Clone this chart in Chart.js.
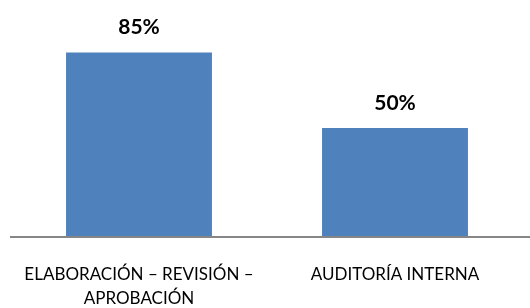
<!DOCTYPE html>
<html>
<head>
<meta charset="utf-8">
<script src="https://cdn.jsdelivr.net/npm/chart.js@4"></script>
<style>
  html, body { margin: 0; padding: 0; background: #fff; }
  #wrap { width: 530px; height: 308px; }
</style>
</head>
<body>
<div id="wrap"><canvas id="chart" width="530" height="308"></canvas></div>
<script>
// Категории и значения (в процентах)
const categories = [
  ["ELABORACIÓN – REVISIÓN –", "APROBACIÓN"],
  "AUDITORÍA INTERNA"
];
const values = [85, 50];
const valueLabels = ["85%", "50%"];

// Подписи значений над столбиками
const valueLabelPlugin = {
  id: "valueLabels",
  afterDatasetsDraw(chart) {
    const ctx = chart.ctx;
    const meta = chart.getDatasetMeta(0);
    ctx.save();
    ctx.font = "bold 21px Lato, 'Open Sans', sans-serif";
    ctx.fillStyle = "#000";
    ctx.textAlign = "center";
    ctx.textBaseline = "middle";
    meta.data.forEach((bar, i) => {
      ctx.fillText(valueLabels[i], bar.x, bar.y - 25);
    });
    ctx.restore();
  }
};

// Ось X — серая линия до правого края
const axisLinePlugin = {
  id: "axisLine",
  afterDatasetsDraw(chart) {
    const ctx = chart.ctx;
    const y = chart.chartArea.bottom + 1;
    ctx.save();
    ctx.strokeStyle = "#868686";
    ctx.lineWidth = 2;
    ctx.beginPath();
    ctx.moveTo(10, y);
    ctx.lineTo(chart.width, y);
    ctx.stroke();
    ctx.restore();
  }
};

new Chart(document.getElementById("chart").getContext("2d"), {
  type: "bar",
  data: {
    labels: categories,
    datasets: [{
      data: values,
      backgroundColor: "#4F81BD",
      borderWidth: 0,
      categoryPercentage: 0.57,
      barPercentage: 1
    }]
  },
  options: {
    responsive: false,
    animation: false,
    maintainAspectRatio: false,
    layout: { padding: { left: 11, right: 7, top: 20, bottom: 0 } },
    plugins: {
      legend: { display: false },
      tooltip: { enabled: false }
    },
    scales: {
      y: { display: false, min: 0, max: 100 },
      x: {
        grid: { display: false, drawTicks: false },
        border: { display: false },
        // фиксированная высота оси и без лишних боковых отступов
        afterFit(scale) {
          scale.height = 72;
          scale.paddingLeft = 0;
          scale.paddingRight = 0;
        },
        ticks: {
          color: "#000",
          padding: 26,
          maxRotation: 0,
          autoSkip: false,
          font: { family: "Lato, 'Open Sans', sans-serif", size: 17, lineHeight: 1.45 }
        }
      }
    }
  },
  plugins: [valueLabelPlugin, axisLinePlugin]
});
</script>
</body>
</html>
